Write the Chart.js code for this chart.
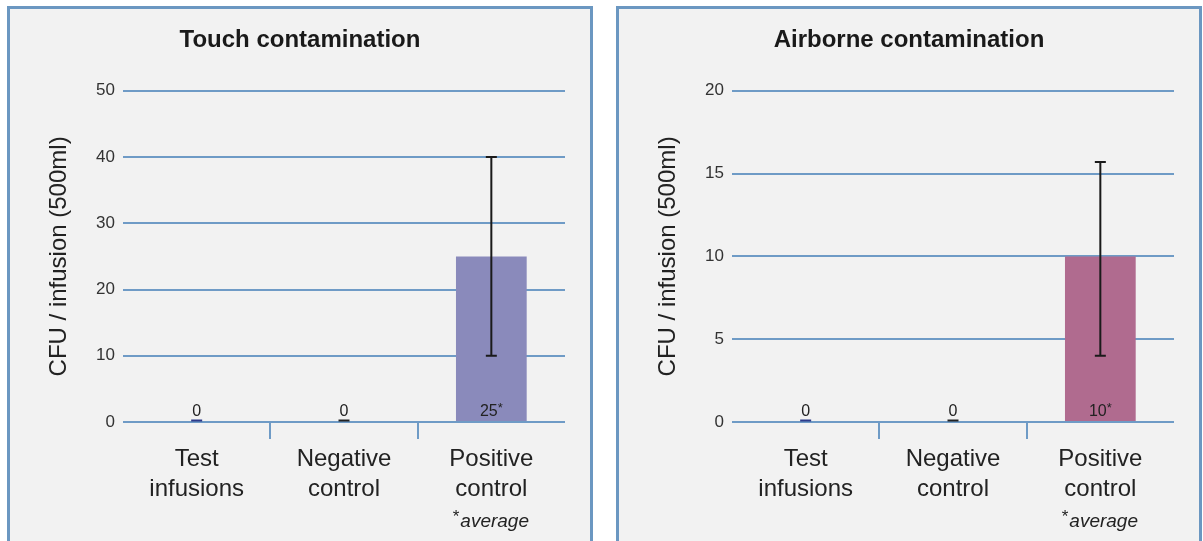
<!DOCTYPE html>
<html>
<head>
<meta charset="utf-8">
<script src="https://cdn.jsdelivr.net/npm/chart.js@4.4.0/dist/chart.umd.min.js"></script>
<style>
  html, body { margin: 0; padding: 0; background: #ffffff; width: 1203px; height: 541px; overflow: hidden; }
  .panel { position: absolute; top: 6px; width: 580px; height: 560px; border: 3px solid #6b97c1; background: #f2f2f2; }
  #p1 { left: 7px; }
  #p2 { left: 616px; }
  canvas { position: absolute; left: 0; top: 0; }
</style>
</head>
<body>
<div class="panel" id="p1"><canvas id="c1" width="580" height="532"></canvas></div>
<div class="panel" id="p2"><canvas id="c2" width="580" height="532"></canvas></div>
<script>
// ---- data ----
const categories = [['Test', 'infusions'], ['Negative', 'control'], ['Positive', 'control']];
const yAxisTitle = 'CFU / infusion (500ml)';
const footnote = 'average';

const touchTitle = 'Touch contamination';
const touchValues = [0, 0, 25];
const touchErrLow = [null, null, 10];
const touchErrHigh = [null, null, 40];
const touchAverage = [false, false, true];
const touchMax = 50;
const touchStep = 10;

const airTitle = 'Airborne contamination';
const airValues = [0, 0, 10];
const airErrLow = [null, null, 4];
const airErrHigh = [null, null, 15.7];
const airAverage = [false, false, true];
const airMax = 20;
const airStep = 5;

const touchColors = ['#2d3a8a', '#222222', '#8a8abb'];
const airColors = ['#2d3a8a', '#222222', '#b06b8f'];

const FONT = "Arial, 'Liberation Sans', sans-serif";
const GRID = '#6f9bc6';
const TEXT = '#222222';

const annotPlugin = {
  id: 'annot',
  afterDatasetsDraw(chart, args, opts) {
    const ctx = chart.ctx;
    const meta = chart.getDatasetMeta(0);
    const ys = chart.scales.y;
    const base = ys.getPixelForValue(0);
    ctx.save();
    meta.data.forEach((el, i) => {
      const v = opts.values[i];
      // tiny mark for zero values
      if (v === 0) {
        ctx.fillStyle = opts.colors[i];
        ctx.fillRect(el.x - 5.5, base - 2.5, 11, 2);
      }
      // error bars
      if (opts.low[i] != null && opts.high[i] != null) {
        const yl = ys.getPixelForValue(opts.low[i]);
        const yh = ys.getPixelForValue(opts.high[i]);
        ctx.strokeStyle = '#1a1a1a';
        ctx.lineWidth = 2;
        ctx.beginPath();
        ctx.moveTo(el.x, yh); ctx.lineTo(el.x, yl);
        ctx.moveTo(el.x - 5.5, yh); ctx.lineTo(el.x + 5.5, yh);
        ctx.moveTo(el.x - 5.5, yl); ctx.lineTo(el.x + 5.5, yl);
        ctx.stroke();
      }
      // value labels
      ctx.fillStyle = TEXT;
      ctx.textBaseline = 'alphabetic';
      ctx.font = '16px ' + FONT;
      const txt = String(v);
      const w = ctx.measureText(txt).width;
      if (opts.average[i]) {
        ctx.font = '13px ' + FONT;
        const sw = ctx.measureText('*').width;
        const total = w + sw;
        ctx.font = '16px ' + FONT;
        ctx.textAlign = 'left';
        ctx.fillText(txt, el.x - total / 2, base - 6);
        ctx.font = '13px ' + FONT;
        ctx.fillText('*', el.x - total / 2 + w, base - 10);
        // footnote under category
        const fy = 518;
        ctx.font = 'italic 19px ' + FONT;
        const aw = ctx.measureText(opts.footnote).width;
        ctx.font = '17px ' + FONT;
        const aw2 = ctx.measureText('*').width;
        const start = el.x - (aw + aw2) / 2 - 1;
        ctx.fillText('*', start, fy - 5);
        ctx.font = 'italic 19px ' + FONT;
        ctx.fillText(opts.footnote, start + aw2 + 1, fy);
      } else {
        ctx.textAlign = 'center';
        ctx.fillText(txt, el.x, base - 6);
      }
    });
    ctx.restore();
  }
};

function makeChart(id, title, values, low, high, average, colors, yMax, yStep) {
  return new Chart(document.getElementById(id), {
    type: 'bar',
    data: {
      labels: categories,
      datasets: [{
        data: values,
        backgroundColor: colors,
        borderWidth: 0,
        barPercentage: 0.48,
        categoryPercentage: 1.0
      }]
    },
    plugins: [annotPlugin],
    options: {
      responsive: false,
      animation: false,
      layout: { padding: { left: 25, right: 25, top: 0, bottom: 0 } },
      plugins: {
        legend: { display: false },
        tooltip: { enabled: false },
        title: {
          display: true,
          text: title,
          color: '#1a1a1a',
          font: { family: FONT, size: 24, weight: 'bold', lineHeight: 1.2 },
          padding: { top: 17, bottom: 36 }
        },
        annot: { values, low, high, average, colors, footnote }
      },
      scales: {
        x: {
          offset: true,
          border: { display: false },
          grid: {
            offset: true,
            drawOnChartArea: false,
            drawTicks: true,
            tickLength: 17,
            lineWidth: 2,
            color: (c) => (c.type === 'tick' && c.index > 0) ? GRID : 'rgba(0,0,0,0)'
          },
          ticks: {
            color: TEXT,
            padding: 5,
            maxRotation: 0,
            autoSkip: false,
            font: { family: FONT, size: 24, lineHeight: 1.25 }
          },
          afterFit: (s) => { s.height = 119; }
        },
        y: {
          min: 0,
          max: yMax,
          border: { display: false },
          grid: { color: GRID, lineWidth: 2, drawTicks: false },
          ticks: {
            stepSize: yStep,
            color: '#333333',
            padding: 8,
            font: { family: FONT, size: 17 }
          },
          title: {
            display: true,
            text: yAxisTitle,
            color: TEXT,
            font: { family: FONT, size: 24, lineHeight: 1.2 },
            padding: { top: 10, bottom: 0 }
          },
          afterFit: (s) => { s.width = 88; }
        }
      }
    }
  });
}

makeChart('c1', touchTitle, touchValues, touchErrLow, touchErrHigh, touchAverage, touchColors, touchMax, touchStep);
makeChart('c2', airTitle, airValues, airErrLow, airErrHigh, airAverage, airColors, airMax, airStep);
</script>
</body>
</html>
